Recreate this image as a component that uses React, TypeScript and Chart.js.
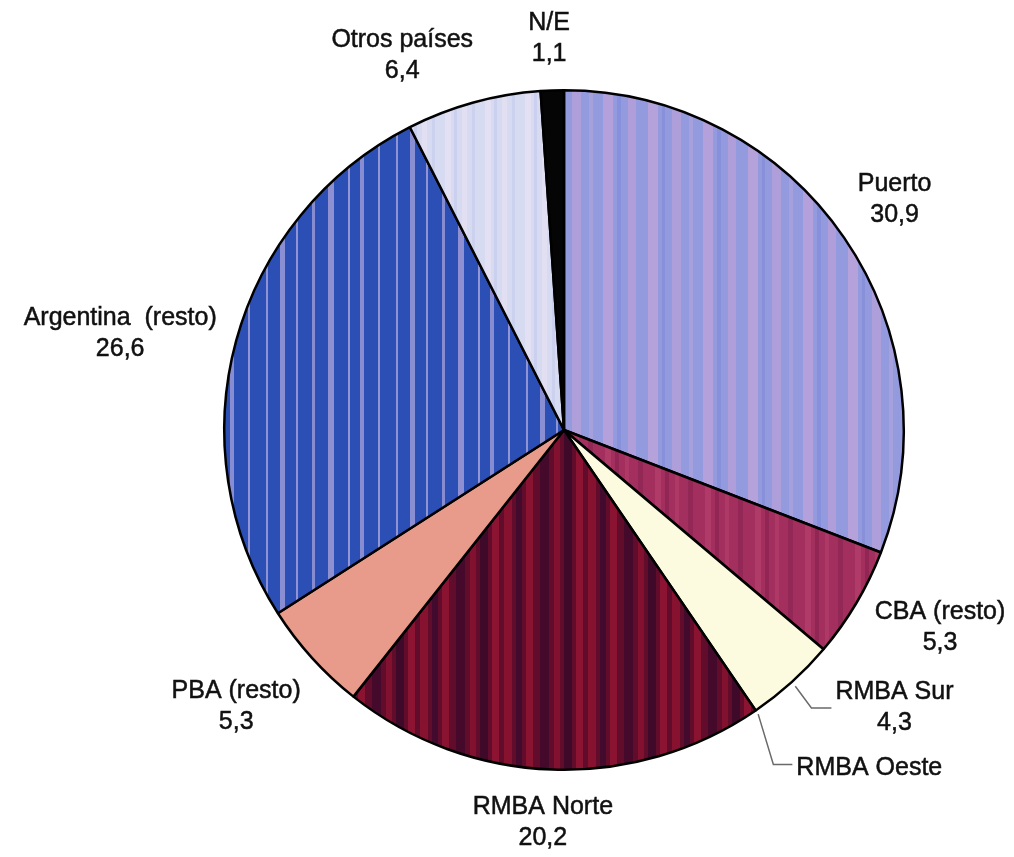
import React, { useEffect, useRef } from "react";
import { Chart, registerables } from "chart.js";

Chart.register(...registerables);

// Data: share of origin (%)
const categories = [
  "Puerto",
  "CBA (resto)",
  "RMBA Sur",
  "RMBA Oeste",
  "RMBA Norte",
  "PBA (resto)",
  "Argentina  (resto)",
  "Otros países",
  "N/E",
];
const shares = [30.9, 5.3, 4.3, 0, 20.2, 5.3, 26.6, 6.4, 1.1];

// Fill styles: [base colour, tile width, stripes [offset, width, colour]]
type Stripe = [number, number, string];
const fills: [string, number, Stripe[]][] = [
  ["#939BDE", 100, [[3, 10, "#B4A0DA"], [17, 4, "#8790DA"], [28, 8, "#B09EDA"], [48, 10, "#B6A2DB"], [62, 3, "#8890D9"], [72, 9, "#AE9ED9"], [89, 4, "#A6A0DC"]]],
  ["#A22F5D", 50, [[5, 6, "#B03A68"], [15, 4, "#912553"], [25, 4, "#AE3866"], [38, 5, "#932756"]]],
  ["#FCFADF", 10, []],
  ["#FCFADF", 10, []],
  ["#620C2C", 84, [[0, 8, "#86122F"], [12, 6, "#420A2C"], [22, 7, "#8A1331"], [36, 9, "#45092B"], [50, 6, "#82112F"], [60, 8, "#3F0A2A"], [72, 7, "#8C1432"]]],
  ["#E99B8B", 10, []],
  ["#2C4FB5", 130, [[6, 2, "#8F92D4"], [20, 5, "#8A8ED2"], [36, 2, "#9194D4"], [52, 3, "#878BD0"], [68, 6, "#8E90D2"], [88, 2, "#9396D6"], [100, 4, "#888CD1"], [118, 2, "#9095D5"]]],
  ["#D7DBF1", 40, [[5, 6, "#E3E0F3"], [14, 3, "#CBD0EE"], [22, 5, "#E2DFF3"], [32, 3, "#CCD1EE"]]],
  ["#050505", 10, []],
];

// Label placement around the pie: angle shift (deg) from the slice middle and
// distance as a multiple of the radius. Leader entries draw an elbow line.
type LabelPos = { da: number; k: number; leader?: { k0: number; ek: number; eda: number; h: number } };
const labelPos: LabelPos[] = [
  { da: -0.4, k: 1.182 },
  { da: -2.9, k: 1.247 },
  { da: 0, k: 1.0, leader: { k0: 1.013, ek: 1.092, eda: 0.4, h: 20 } },
  { da: 0, k: 1.0, leader: { k0: 1.01, ek: 1.158, eda: 2.3, h: 19 } },
  { da: 1.1, k: 1.154 },
  { da: 2.0, k: 1.259 },
  { da: -2.9, k: 1.333 },
  { da: -7.9, k: 1.197 },
  { da: -0.2, k: 1.148 },
];

const FONT = '25px "Liberation Sans", Arial, Helvetica, sans-serif';
const LINE_H = 31;

function fmt(v: number): string {
  return v.toFixed(1).replace(".", ",");
}

function makeFill(base: string, w: number, stripes: Stripe[]): CanvasPattern | string {
  if (!stripes.length) return base;
  const c = document.createElement("canvas");
  c.width = w;
  c.height = 4;
  const g = c.getContext("2d")!;
  g.fillStyle = base;
  g.fillRect(0, 0, w, 4);
  for (const [x, sw, col] of stripes) {
    g.fillStyle = col;
    g.fillRect(x, 0, sw, 4);
  }
  return g.createPattern(c, "repeat") || base;
}

const labelPlugin = {
  id: "sliceLabels",
  afterDatasetsDraw(chart: any) {
    const ctx: CanvasRenderingContext2D = chart.ctx;
    const meta = chart.getDatasetMeta(0);
    ctx.save();
    ctx.font = FONT;
    ctx.fillStyle = "#111";
    ctx.strokeStyle = "#111";
    ctx.textAlign = "center";
    ctx.textBaseline = "middle";
    meta.data.forEach((arc: any, i: number) => {
      const { x, y, startAngle, endAngle, outerRadius } = arc.getProps(
        ["x", "y", "startAngle", "endAngle", "outerRadius"],
        true
      );
      const r = outerRadius + 1;
      const mid = (startAngle + endAngle) / 2;
      const pos = labelPos[i];
      const v = shares[i];
      const lines = v > 0 ? [categories[i], fmt(v)] : [categories[i]];
      let cx: number;
      let cy: number;
      if (pos.leader) {
        const L = pos.leader;
        const sx = x + Math.cos(mid) * r * L.k0;
        const sy = y + Math.sin(mid) * r * L.k0;
        const ea = mid + (L.eda * Math.PI) / 180;
        const ex = x + Math.cos(ea) * r * L.ek;
        const ey = y + Math.sin(ea) * r * L.ek;
        ctx.save();
        ctx.strokeStyle = "#6a6a6a";
        ctx.lineWidth = 1.5;
        ctx.beginPath();
        ctx.moveTo(sx, sy);
        ctx.lineTo(ex, ey);
        ctx.lineTo(ex + L.h, ey);
        ctx.stroke();
        ctx.restore();
        const wMax = Math.max(...lines.map((t) => ctx.measureText(t).width));
        cx = ex + L.h + 4 + wMax / 2;
        cy = ey + (lines.length === 1 ? 4 : 0);
      } else {
        const a = mid + (pos.da * Math.PI) / 180;
        cx = x + Math.cos(a) * r * pos.k;
        cy = y + Math.sin(a) * r * pos.k;
      }
      const top = cy - ((lines.length - 1) * LINE_H) / 2;
      ctx.lineWidth = 0.5;
      lines.forEach((t, j) => {
        ctx.fillText(t, cx, top + j * LINE_H);
        ctx.strokeText(t, cx, top + j * LINE_H);
      });
    });
    ctx.restore();
  },
};

export default function App() {
  const ref = useRef<HTMLCanvasElement | null>(null);

  useEffect(() => {
    if (!ref.current) return;
    const bg = fills.map(([b, w, s]) => makeFill(b, w, s));
    const chart = new Chart(ref.current, {
      type: "pie",
      data: {
        labels: categories,
        datasets: [
          {
            data: shares,
            backgroundColor: bg as any,
            borderColor: "#000",
            borderWidth: 2.5,
          },
        ],
      },
      options: {
        responsive: false,
        animation: false,
        devicePixelRatio: 1,
        layout: { padding: { left: 223, right: 109, top: 89, bottom: 86 } },
        plugins: {
          legend: { display: false },
          tooltip: { enabled: false },
        },
      },
      plugins: [labelPlugin],
    });
    return () => chart.destroy();
  }, []);

  return (
    <div style={{ position: "absolute", left: 0, top: 0, width: 1014, height: 857, background: "#fff" }}>
      <canvas ref={ref} width={1014} height={857} style={{ width: 1014, height: 857, display: "block" }} />
    </div>
  );
}
